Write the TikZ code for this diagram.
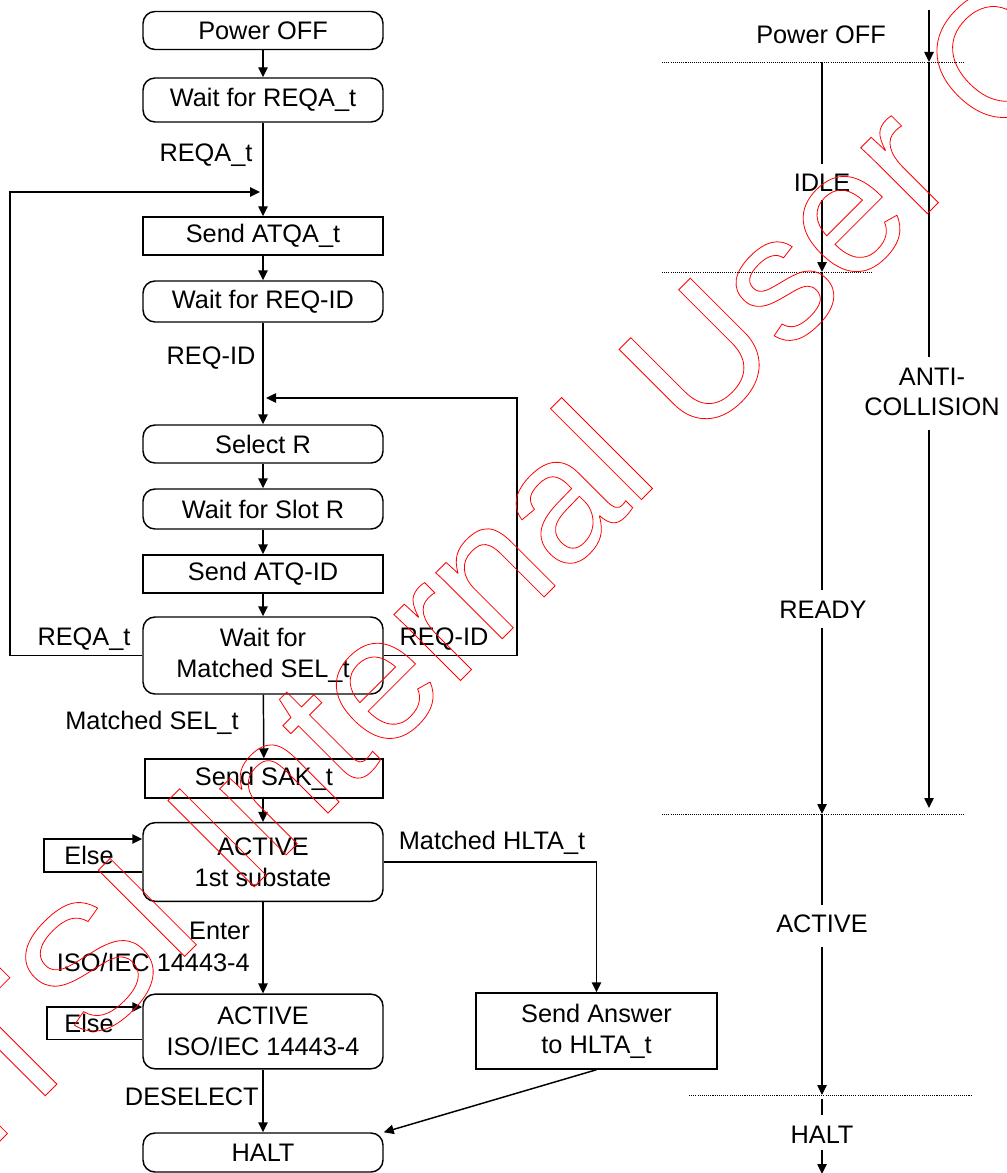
\documentclass[tikz,border=0pt]{standalone}
\usepackage{fontspec}
\setmainfont{Liberation Sans}
\usetikzlibrary{arrows.meta,calc}
\begin{document}
\begin{tikzpicture}[x=0.75pt,y=-0.75pt,
  every node/.style={font=\fontsize{19}{23}\selectfont, inner sep=0pt, align=center},
  rbox/.style={draw, line width=1.1pt, rounded corners=9pt, minimum width=180pt},
  sbox/.style={draw, line width=1.1pt, minimum width=180pt},
  conn/.style={line width=1.1pt, -{Triangle[length=7.5pt,width=7pt]}},
  plainln/.style={line width=1.1pt},
  dots/.style={line width=0.6pt, dash pattern=on 0.8pt off 0.8pt},
  wm/.style={red, rotate=45, anchor=base west, font=\fontsize{133}{133}\selectfont}
]
\useasboundingbox (0,0) rectangle (1006,1173);

% ---------- left flow ----------
\node[rbox, minimum height=28.5pt] (pwr) at (263,30.5) {Power OFF};
\node[rbox, minimum height=33pt] (wreqa) at (263,100) {Wait for REQA\_t};
\node[sbox, minimum height=28.5pt] (satqa) at (263,236) {Send ATQA\_t};
\node[rbox, minimum height=30.75pt] (wreqid) at (263,301.5) {Wait for REQ-ID};
\node[rbox, minimum height=28.5pt] (selr) at (263,444) {Select R};
\node[rbox, minimum height=30pt] (wslot) at (263,509) {Wait for Slot R};
\node[sbox, minimum height=28.5pt] (satqid) at (263,574) {Send ATQ-ID};
\node[rbox, minimum height=57.75pt] (wsel) at (263,655.5) {Wait for\\Matched SEL\_t};
\node[sbox, minimum height=29.25pt, minimum width=178.5pt] (ssak) at (264,778.5) {Send SAK\_t};
\node[rbox, minimum height=59pt] (act1) at (263,862) {ACTIVE\\1st substate};
\node[rbox, minimum height=56pt] (actiso) at (263,1031.5) {ACTIVE\\ISO/IEC 14443-4};
\node[rbox, minimum height=29.25pt] (halt) at (263,1152.5) {HALT};
\node[sbox, minimum height=57pt, minimum width=181pt] (sans) at (596.5,1031) {Send Answer\\to HLTA\_t};

\draw[conn] (pwr) -- (wreqa);
\draw[conn] (wreqa) -- (satqa);
\draw[conn] (satqa) -- (wreqid);
\draw[conn] (wreqid) -- (selr);
\draw[conn] (selr) -- (wslot);
\draw[conn] (wslot) -- (satqid);
\draw[conn] (satqid) -- (wsel);
\draw[conn] (wsel) -- (ssak);
\draw[conn] (ssak.south -| act1.north) -- (act1);
\draw[conn] (act1) -- (actiso);
\draw[conn] (actiso) -- (halt);

% loops
\coordinate (ljoin) at (260,192);
\coordinate (rjoin) at (266,398);
\draw[conn] (wsel.west) -- (10,655.5) -- (10,192) -- (ljoin);
\draw[conn] (wsel.east) -- (517,655.5) -- (517,398) -- (rjoin);
\node (lreqa) at (206,155) {REQA\_t};
\node (lreqid) at (211,358) {REQ-ID};
\node (lreqa2) at (84,639) {REQA\_t};
\node (lreqid2) at (444,639) {REQ-ID};
\node (lmsel) at (152,723) {Matched SEL\_t};

% else loops
\draw[conn] ($(act1.west)+(0,10)$) -- (44,872) -- (44,839) -- ($(act1.west)+(0,-23)$);
\node (else1) at (89,855) {Else};
\draw[conn] ($(actiso.west)+(0,8)$) -- (47,1039.5) -- (47,1007) -- ($(actiso.west)+(0,-24.5)$);
\node (else2) at (89,1023) {Else};

\node[anchor=east] (lenter) at (250,931) {Enter};
\node[anchor=east] (liso) at (250,962) {ISO/IEC 14443-4};
\node[anchor=east] (ldes) at (259,1097) {DESELECT};

\draw[conn] (act1.east) -| (sans.north);
\node (lhlta) at (492,843) {Matched HLTA\_t};
\draw[conn] (sans.south) -- (halt.north east);

% ---------- right timeline ----------
\draw[dots] (662,62) -- (963,62);
\draw[dots] (662,272) -- (873,272);
\draw[dots] (662,814) -- (963,814);
\draw[dots] (689,1095) -- (971,1095);

\node (tpwr) at (821,35) {Power OFF};
\node (tidle) at (822,183) {IDLE};
\node (tready) at (823,610) {READY};
\node (tactive) at (822,924) {ACTIVE};
\node (thalt) at (822,1135) {HALT};
\node (tanti) at (932,392) {ANTI-\\COLLISION};

\coordinate (a0) at (929,10);
\coordinate (a1) at (929,62);
\coordinate (a2) at (929,357);
\coordinate (a3) at (929,430);
\coordinate (a4) at (929,808);
\draw[conn] (a0) -- (a1);
\draw[plainln] (a1) -- (a2);
\draw[conn] (a3) -- (a4);

\coordinate (b0) at (822,62);
\coordinate (b1) at (822,164);
\coordinate (b2) at (822,200);
\coordinate (b3) at (822,272);
\coordinate (b4) at (822,590);
\coordinate (b5) at (822,628);
\coordinate (b6) at (822,814);
\coordinate (b7) at (822,905);
\coordinate (b8) at (822,947);
\coordinate (b9) at (822,1095);
\coordinate (b10) at (822,1099);
\coordinate (b11) at (822,1115);
\coordinate (b12) at (822,1150);
\coordinate (b13) at (822,1174);
\draw[plainln] (b0) -- (b1);
\draw[conn] (b2) -- (b3);
\draw[plainln] (b3) -- (b4);
\draw[conn] (b5) -- (b6);
\draw[plainln] (b6) -- (b7);
\draw[conn] (b8) -- (b9);
\draw[plainln] (b10) -- (b11);
\draw[conn] (b12) -- (b13);

% ---------- watermark (outlined text) ----------
\node[wm] (wmark) at (-71,1212) {\special{pdf:literal direct 1 Tr 0.6 w}ETSI Internal User C\special{pdf:literal direct 0 Tr}};
\end{tikzpicture}
\end{document}
